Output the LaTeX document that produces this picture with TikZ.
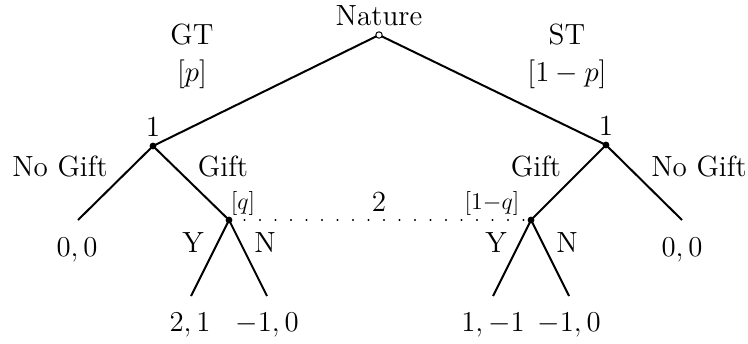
\documentclass[tikz,border=0pt]{standalone}
\begin{document}
\begin{tikzpicture}[x=0.5pt,y=-0.5pt,
  every node/.style={font=\fontsize{14.6}{17}\selectfont, inner sep=0pt},
  branch/.style={line width=1pt},
  dec/.style={circle, fill=black, minimum size=3.4pt, inner sep=0pt},
  chance/.style={circle, draw=black, fill=white, line width=0.5pt, minimum size=3.2pt, inner sep=0pt},
  lbl/.style={anchor=center},
  small/.style={font=\fontsize{12.5}{15}\selectfont},
  info/.style={line width=1.2pt, line cap=round, dash pattern=on 0pt off 7.75pt}]
\useasboundingbox (0,0) rectangle (748,343);
% nodes
\coordinate (n0) at (379,35);
\coordinate (a) at (153,146);
\coordinate (b) at (606,145);
\coordinate (c) at (229,220);
\coordinate (d) at (531,220);
\coordinate (la) at (78,220);
\coordinate (lb) at (682,220);
\coordinate (c1) at (191,296);
\coordinate (c2) at (267,296);
\coordinate (d1) at (493,296);
\coordinate (d2) at (569,296);
% branches
\draw[branch] (n0) -- (a);
\draw[branch] (n0) -- (b);
\draw[branch] (a) -- (la);
\draw[branch] (a) -- (c);
\draw[branch] (b) -- (lb);
\draw[branch] (b) -- (d);
\draw[branch] (c) -- (c1);
\draw[branch] (c) -- (c2);
\draw[branch] (d) -- (d1);
\draw[branch] (d) -- (d2);
\draw[info] (c) -- (d);
% node markers
\node[chance] (N0) at (n0) {};
\node[dec] (A) at (a) {};
\node[dec] (B) at (b) {};
\node[dec] (C) at (c) {};
\node[dec] (D) at (d) {};
% labels
\node[lbl] (tNat) at (379,16) {Nature};
\node[lbl] (tGT) at (192,35) {GT};
\node[lbl] (tp) at (192,74) {$[p]$};
\node[lbl] (tST) at (567,35) {ST};
\node[lbl] (t1p) at (567,74) {$[1-p]$};
\node[lbl] (t1a) at (153,127) {1};
\node[lbl] (t1b) at (606,126) {1};
\node[lbl] (tNGa) at (60,167) {No Gift};
\node[lbl] (tGa) at (223,167) {Gift};
\node[lbl] (tGb) at (536,167) {Gift};
\node[lbl] (tNGb) at (699,167) {No Gift};
\node[lbl,small] (tq) at (243,203) {$[q]$};
\node[lbl,small] (t1q) at (492,203) {$[1{-}q]$};
\node[lbl] (t2) at (379,202) {2};
\node[lbl] (tYa) at (193,243) {Y};
\node[lbl] (tNa) at (265,243) {N};
\node[lbl] (tYb) at (496,243) {Y};
\node[lbl] (tNb) at (567,243) {N};
\node[lbl] (p0a) at (77,250) {$0,0$};
\node[lbl] (p0b) at (682,250) {$0,0$};
\node[lbl] (pc1) at (190,325) {$2,1$};
\node[lbl] (pc2) at (267,325) {$-1,0$};
\node[lbl] (pd1) at (493,325) {$1,-1$};
\node[lbl] (pd2) at (569,325) {$-1,0$};
\end{tikzpicture}
\end{document}
